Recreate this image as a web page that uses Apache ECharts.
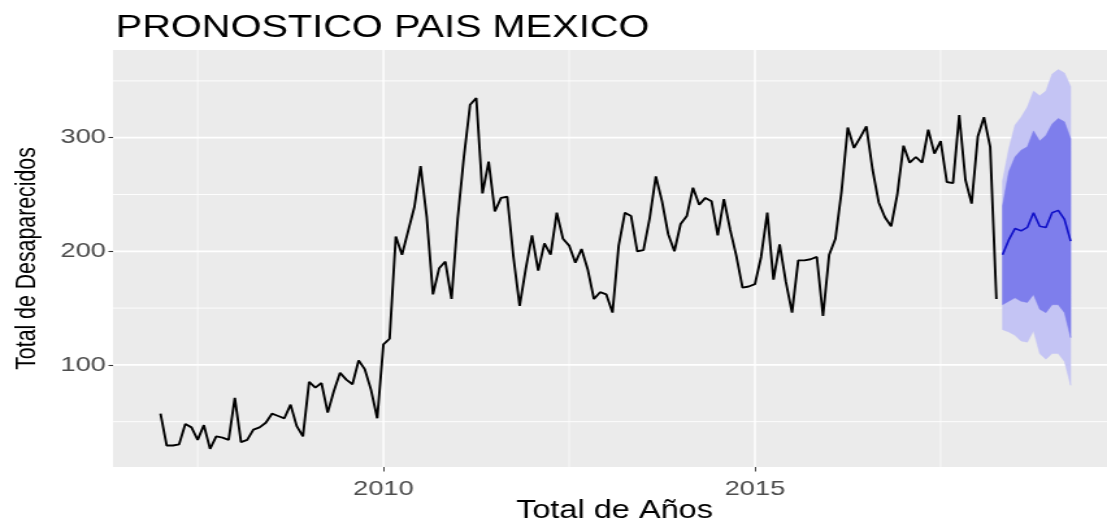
<!DOCTYPE html>
<html>
<head>
<meta charset="utf-8">
<script src="https://cdn.jsdelivr.net/npm/echarts@6/dist/echarts.min.js"></script>
<style>
  html, body { margin: 0; padding: 0; background: #ffffff; overflow: hidden; width: 1107px; height: 522px; }
  /* the plot is laid out on a narrower canvas and widened to the page width */
  #chart { width: 852px; height: 522px; transform: scaleX(1.2993); transform-origin: 0 0; }
</style>
</head>
<body>
<div id="chart"></div>
<script>
// Monthly series, first observation January 2007
const startYear = 2007;

// Observed totals, Jan 2007 - Apr 2018
const historico = [
  57, 29, 29, 30, 48, 45, 34, 47, 26, 37, 36, 34,
  71, 32, 34, 43, 45, 49, 57, 55, 53, 65, 46, 37,
  85, 80, 84, 58, 77, 93, 87, 83, 104, 96, 78, 53,
  118, 123, 213, 197, 218, 239, 275, 230, 162, 185, 191, 158,
  229, 283, 329, 335, 251, 279, 235, 247, 248, 195, 152, 185,
  214, 183, 207, 197, 234, 211, 205, 190, 202, 184, 158, 164,
  162, 146, 205, 234, 231, 200, 201, 229, 266, 244, 215, 200,
  224, 231, 256, 241, 247, 244, 214, 246, 219, 196, 168, 169,
  171, 195, 234, 175, 206, 173, 146, 192, 192, 193, 195, 143,
  197, 211, 253, 309, 291, 300, 310, 272, 243, 230, 222, 250,
  293, 278, 283, 278, 307, 286, 297, 261, 260, 320, 263, 242,
  301, 318, 292, 158
];

// Forecast, May 2018 - Apr 2019
const pronostico = [197, 210, 220, 218, 221, 234, 222, 221, 234, 236, 228, 209];
const inferior80 = [153, 156, 159, 156, 155, 162, 149, 146, 153, 153, 146, 124];
const superior80 = [240, 270, 283, 289, 292, 306, 297, 302, 312, 317, 314, 299];
const inferior95 = [131, 129, 126, 121, 120, 130, 110, 105, 110, 110, 103, 82];
const superior95 = [262, 290, 311, 318, 327, 341, 337, 341, 356, 360, 357, 345];

// Axis ticks and grid
const xTicks = [2010, 2015];
const yTicks = [100, 200, 300];
const xMinor = [2007.5, 2012.5, 2017.5];
const yMinor = [50, 150, 250, 350];

const fecha = (i) => startYear + i / 12;
const n = historico.length;
const serieHistorica = historico.map((v, i) => [fecha(i), v]);
const seriePronostico = pronostico.map((v, i) => [fecha(n + i), v]);

const FONT = 'Liberation Sans, Arial, sans-serif';
const PANEL = '#EBEBEB';
const LIGHT = '#c4c4f4';
const DARK = '#7e7eec';
const BLUE = '#1010c8';

const chart = echarts.init(document.getElementById('chart'), null, { renderer: 'canvas' });

const option = {
  animation: false,
  backgroundColor: '#ffffff',
  title: {
    text: 'PRONOSTICO PAIS MEXICO',
    left: 89,
    top: 13.5,
    padding: 0,
    textStyle: { fontFamily: FONT, fontSize: 30.6, fontWeight: 'normal', color: '#000000', lineHeight: 30.6 }
  },
  grid: {
    // the panel runs past the right edge of the page
    left: 87, right: -6.9, top: 50, bottom: 55,
    containLabel: false,
    outerBoundsMode: 'none',
    show: true, backgroundColor: PANEL, borderWidth: 0
  },
  xAxis: {
    type: 'value',
    min: 2006.361,
    max: 2019.86,
    name: 'Total de Años',
    nameLocation: 'middle',
    nameGap: 31.5,
    nameMoveOverlap: false,
    nameTextStyle: { fontFamily: FONT, fontSize: 25, color: '#000000', lineHeight: 25 },
    axisLine: { show: false },
    axisTick: { show: true, length: 4.5, customValues: xTicks, lineStyle: { color: '#333333', width: 0.9 } },
    axisLabel: {
      customValues: xTicks, margin: 12, fontFamily: FONT, fontSize: 21, color: '#4D4D4D', lineHeight: 21,
      formatter: (v) => String(v)
    },
    splitLine: { show: false }
  },
  yAxis: {
    type: 'value',
    min: 10.1,
    max: 377.2,
    name: 'Total de Desaparecidos',
    nameLocation: 'middle',
    nameGap: 55.5,
    nameMoveOverlap: false,
    nameTextStyle: { fontFamily: FONT, fontSize: 21.3, color: '#000000', lineHeight: 21.3 },
    axisLine: { show: false },
    axisTick: { show: true, length: 3.5, customValues: yTicks, lineStyle: { color: '#333333', width: 1.1 } },
    axisLabel: {
      customValues: yTicks, margin: 5.5, fontFamily: FONT, fontSize: 21, color: '#4D4D4D',
      formatter: (v) => String(v)
    },
    splitLine: { show: false }
  },
  series: [
    {
      // panel grid lines, minor and major
      type: 'custom',
      silent: true,
      z: 0,
      data: [[xTicks[0], yTicks[0]]],
      renderItem: (params, api) => {
        const cs = params.coordSys;
        const children = [];
        const hLine = (v, w) => {
          const y = api.coord([xTicks[0], v])[1];
          children.push({ type: 'line', shape: { x1: cs.x, y1: y, x2: cs.x + cs.width, y2: y },
            style: { stroke: '#ffffff', lineWidth: w } });
        };
        const vLine = (v, w) => {
          const x = api.coord([v, yTicks[0]])[0];
          children.push({ type: 'line', shape: { x1: x, y1: cs.y, x2: x, y2: cs.y + cs.height },
            style: { stroke: '#ffffff', lineWidth: w } });
        };
        yMinor.forEach(v => hLine(v, 0.9));
        xMinor.forEach(v => vLine(v, 0.7));
        yTicks.forEach(v => hLine(v, 1.8));
        xTicks.forEach(v => vLine(v, 1.4));
        return { type: 'group', children };
      }
    },
    {
      // prediction intervals, 95% then 80%
      type: 'custom',
      silent: true,
      z: 1,
      data: [seriePronostico[0]],
      renderItem: (params, api) => {
        const band = (lo, hi, color) => {
          const pts = [];
          hi.forEach((v, i) => pts.push(api.coord([fecha(n + i), v])));
          for (let i = lo.length - 1; i >= 0; i--) pts.push(api.coord([fecha(n + i), lo[i]]));
          return { type: 'polygon', shape: { points: pts }, style: { fill: color, stroke: color, lineWidth: 0.5 } };
        };
        return { type: 'group', children: [
          band(inferior95, superior95, LIGHT),
          band(inferior80, superior80, DARK)
        ] };
      }
    },
    {
      name: 'Observado',
      type: 'line',
      z: 3,
      data: serieHistorica,
      showSymbol: false,
      lineStyle: { color: '#000000', width: 1.9 },
      silent: true
    },
    {
      name: 'Pronóstico',
      type: 'line',
      z: 4,
      data: seriePronostico,
      showSymbol: false,
      lineStyle: { color: BLUE, width: 1.6 },
      silent: true
    }
  ]
};

chart.setOption(option);
</script>
</body>
</html>
